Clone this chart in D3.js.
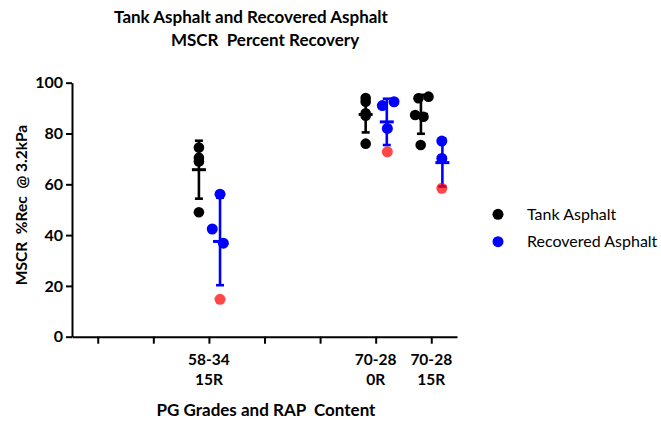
<!DOCTYPE html>
<html>
<head>
<meta charset="utf-8">
<script src="https://cdn.jsdelivr.net/npm/d3@7"></script>
<style>
  html, body { margin: 0; padding: 0; background: #fff; }
  svg { display: block; }
  text { font-family: Lato, "Liberation Sans", sans-serif; white-space: pre; }
</style>
</head>
<body>
<svg id="chart" width="661" height="427"></svg>
<script>
// Category slots along the x axis (only three carry data)
const categories = ["", "", "58-34\n15R", "", "", "70-28\n0R", "70-28\n15R"];
const groupSlots = [2, 5, 6];

// MSCR % recovery at 3.2 kPa, one inner array per group
const tankValues = [
  [74.5, 70.5, 69.0, 49.0],
  [94.0, 92.5, 88.0, 87.0, 76.0],
  [93.9, 94.5, 87.3, 86.6, 75.5]
];
const recoveredValues = [
  [56.1, 42.4, 36.8, 14.7],
  [91.0, 92.5, 82.0, 72.8],
  [77.0, 70.2, 58.4]
];
// Horizontal scatter of individual points (in category units)
const tankJitter = [
  [0, 0, 0, 0],
  [0, 0, 0, 0, 0],
  [-0.05, 0.13, -0.11, 0.04, -0.01]
];
const recoveredJitter = [
  [0, -0.14, 0.06, 0],
  [-0.08, 0.13, 0.01, 0.01],
  [-0.01, -0.01, -0.01]
];
// Index of the highlighted (lowest) recovered sample in each group
const recoveredFlagged = [3, 3, 2];

const yTicks = [0, 20, 40, 60, 80, 100];
const seriesNames = ["Tank Asphalt", "Recovered Asphalt"];

const svg = d3.select("#chart");
const x = d3.scaleLinear().domain([-0.463, 6.463]).range([72, 457]);
const y = d3.scaleLinear().domain([0, 100]).range([336.7, 82.7]);

const colors = { tank: "#000000", recovered: "#0000ff", flagged: "#ff0000" };
const offsets = { tank: -0.18, recovered: 0.2 };

// Axes
const yAxis = svg.append("g")
  .attr("transform", `translate(${x.range()[0]},0)`)
  .call(d3.axisLeft(y).tickValues(yTicks).tickSize(6).tickSizeOuter(0).tickPadding(3));
const xAxis = svg.append("g")
  .attr("transform", `translate(0,${y(0)})`)
  .call(d3.axisBottom(x).tickValues(d3.range(categories.length)).tickSize(7).tickSizeOuter(0).tickFormat(() => ""));

[yAxis, xAxis].forEach(g => {
  g.select(".domain").attr("stroke", "#000").attr("stroke-width", 2);
  g.selectAll(".tick line").attr("stroke", "#000").attr("stroke-width", 2);
});
yAxis.selectAll(".tick text")
  .attr("font-family", "Lato, sans-serif")
  .attr("font-size", 16).attr("font-weight", "bold").attr("fill", "#000");

// Two-line category labels
categories.forEach((c, i) => {
  if (!c) return;
  const lines = c.split("\n");
  const t = svg.append("text")
    .attr("x", x(i)).attr("y", 365)
    .attr("text-anchor", "middle")
    .attr("font-size", 15.5).attr("font-weight", "bold");
  lines.forEach((ln, k) => {
    t.append("tspan").attr("x", x(i)).attr("dy", k === 0 ? 0 : 20).text(ln);
  });
});

// Error bars: mean ± SD
function errorBar(values, cx, color) {
  const m = d3.mean(values), sd = d3.deviation(values);
  const g = svg.append("g").attr("stroke", color).attr("stroke-width", 2.6);
  g.append("line").attr("x1", cx).attr("x2", cx).attr("y1", y(m + sd)).attr("y2", y(m - sd));
  g.append("line").attr("x1", cx - 7).attr("x2", cx + 7).attr("y1", y(m)).attr("y2", y(m)).attr("stroke-width", 3);
  [m + sd, m - sd].forEach(v => {
    g.append("line").attr("x1", cx - 4).attr("x2", cx + 4).attr("y1", y(v)).attr("y2", y(v));
  });
}

groupSlots.forEach((slot, gi) => {
  errorBar(tankValues[gi], x(slot + offsets.tank + (gi === 2 ? -0.006 : 0)), colors.tank);
  errorBar(recoveredValues[gi], x(slot + offsets.recovered), colors.recovered);
});

// Individual samples
groupSlots.forEach((slot, gi) => {
  svg.append("g").selectAll("circle")
    .data(tankValues[gi])
    .join("circle")
    .attr("cx", (d, i) => x(slot + offsets.tank + tankJitter[gi][i]))
    .attr("cy", d => y(d))
    .attr("r", 5.3)
    .attr("fill", colors.tank);
  svg.append("g").selectAll("circle")
    .data(recoveredValues[gi])
    .join("circle")
    .attr("cx", (d, i) => x(slot + offsets.recovered + recoveredJitter[gi][i]))
    .attr("cy", d => y(d))
    .attr("r", 5.5)
    .attr("fill", (d, i) => i === recoveredFlagged[gi] ? colors.flagged : colors.recovered)
    .attr("fill-opacity", (d, i) => i === recoveredFlagged[gi] ? 0.72 : 1);
});

// Titles
svg.append("text").attr("x", 251).attr("y", 23).attr("text-anchor", "middle")
  .attr("font-size", 17).attr("font-weight", "bold").text("Tank Asphalt and Recovered Asphalt");
svg.append("text").attr("x", 265).attr("y", 46).attr("text-anchor", "middle")
  .attr("font-size", 17).attr("font-weight", "bold").text("MSCR  Percent Recovery");

svg.append("text").attr("x", 266).attr("y", 416).attr("text-anchor", "middle")
  .attr("font-size", 17).attr("font-weight", "bold").text("PG Grades and RAP  Content");

svg.append("text")
  .attr("transform", "translate(27,205) rotate(-90)")
  .attr("text-anchor", "middle")
  .attr("font-size", 15.5).attr("font-weight", "bold").text("MSCR  %Rec  @ 3.2kPa");

// Legend
const legend = svg.append("g");
seriesNames.forEach((name, i) => {
  const ly = 214.3 + i * 27.4;
  legend.append("circle").attr("cx", 498).attr("cy", ly).attr("r", 5.5)
    .attr("fill", i === 0 ? colors.tank : colors.recovered);
  legend.append("text").attr("x", 527).attr("y", ly + 5.5)
    .attr("font-size", 16).attr("fill", "#000").text(name);
});
</script>
</body>
</html>
